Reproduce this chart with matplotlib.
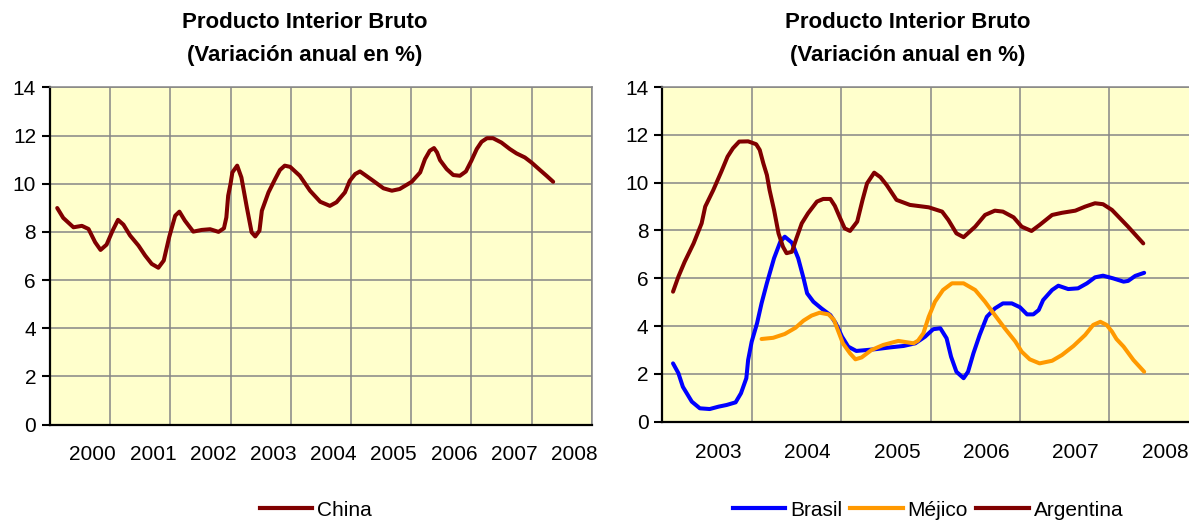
import matplotlib
matplotlib.use("Agg")
import matplotlib.pyplot as plt
from matplotlib.lines import Line2D

plt.rcParams['font.family'] = ['Liberation Sans', 'DejaVu Sans']

# China, decimal years from Jan 2000
china_x = [0.12, 0.22, 0.39, 0.53, 0.64, 0.75, 0.84, 0.94,
           1.04, 1.13, 1.22, 1.33, 1.47, 1.58, 1.69, 1.80, 1.89, 1.98,
           2.08, 2.15, 2.24, 2.38, 2.52, 2.66, 2.80,
           2.89, 2.93, 2.96, 3.00, 3.03,
           3.11, 3.18, 3.27, 3.35, 3.41, 3.48, 3.52, 3.63, 3.74, 3.82, 3.90, 3.99,
           4.15, 4.32, 4.49, 4.65, 4.76, 4.90, 4.98,
           5.07, 5.15, 5.23, 5.37, 5.54, 5.68, 5.81,
           6.01, 6.15, 6.23, 6.31, 6.38, 6.43, 6.48, 6.59, 6.70, 6.81, 6.91,
           7.00, 7.09, 7.17, 7.26, 7.36, 7.50, 7.64, 7.75, 7.89,
           8.00, 8.14, 8.25, 8.36]
china_y = [8.99, 8.58, 8.19, 8.25, 8.12, 7.57, 7.25, 7.47,
           8.05, 8.50, 8.30, 7.85, 7.43, 7.02, 6.67, 6.51, 6.81, 7.78,
           8.67, 8.84, 8.47, 8.01, 8.08, 8.11, 8.00,
           8.15, 8.60, 9.50, 10.00, 10.47,
           10.75, 10.26, 9.02, 7.98, 7.81, 8.05, 8.88, 9.64, 10.19, 10.57, 10.75, 10.70,
           10.33, 9.71, 9.25, 9.08, 9.23, 9.64, 10.12,
           10.40, 10.51, 10.37, 10.12, 9.81, 9.71, 9.78,
           10.08, 10.47, 11.02, 11.37, 11.48, 11.30, 10.98, 10.61, 10.36, 10.33, 10.51,
           10.95, 11.44, 11.74, 11.89, 11.89, 11.71, 11.44, 11.26, 11.09,
           10.88, 10.57, 10.33, 10.08]

# Latin America, decimal years from Jan 2003
brasil_x = [0.12, 0.18, 0.23, 0.33, 0.42, 0.53, 0.63, 0.72, 0.82, 0.88, 0.94, 0.96,
            1.00, 1.06, 1.11, 1.17, 1.25, 1.32, 1.37, 1.45, 1.52, 1.58, 1.62, 1.69, 1.78, 1.88, 1.94,
            2.01, 2.08, 2.17, 2.29, 2.40, 2.55, 2.70, 2.83, 2.94,
            3.03, 3.11, 3.18, 3.23, 3.29, 3.37, 3.42, 3.48, 3.55, 3.63, 3.72, 3.81, 3.91,
            4.00, 4.08, 4.15, 4.21, 4.26, 4.36, 4.43, 4.54, 4.65, 4.75, 4.84, 4.93,
            5.04, 5.16, 5.21, 5.29, 5.39]
brasil_y = [2.44, 2.03, 1.46, 0.84, 0.56, 0.53, 0.63, 0.70, 0.81, 1.19, 1.82, 2.58,
            3.35, 4.12, 4.95, 5.80, 6.84, 7.53, 7.74, 7.49, 6.84, 6.00, 5.37, 5.02, 4.74, 4.46, 4.12,
            3.56, 3.14, 2.96, 3.00, 3.04, 3.11, 3.17, 3.28, 3.56,
            3.87, 3.91, 3.49, 2.72, 2.09, 1.82, 2.09, 2.86, 3.63, 4.39, 4.74, 4.95, 4.95,
            4.79, 4.49, 4.49, 4.67, 5.09, 5.51, 5.69, 5.55, 5.58, 5.79, 6.04, 6.11,
            6.00, 5.86, 5.89, 6.10, 6.23]

mejico_x = [1.11, 1.24, 1.37, 1.49, 1.58, 1.67, 1.76, 1.86, 1.92, 1.97,
            2.02, 2.10, 2.16, 2.23, 2.34, 2.47, 2.64, 2.81, 2.86, 2.92, 2.98,
            3.05, 3.14, 3.24, 3.37, 3.50, 3.61, 3.72, 3.83, 3.95,
            4.02, 4.11, 4.22, 4.36, 4.47, 4.60, 4.73, 4.82, 4.90, 4.97,
            5.03, 5.08, 5.16, 5.27, 5.39]
mejico_y = [3.46, 3.51, 3.67, 3.93, 4.23, 4.44, 4.56, 4.49, 4.26, 3.77,
            3.28, 2.86, 2.61, 2.69, 3.00, 3.21, 3.38, 3.28, 3.39, 3.70, 4.39,
            5.02, 5.51, 5.79, 5.79, 5.51, 5.02, 4.46, 3.91, 3.35,
            2.93, 2.61, 2.44, 2.55, 2.79, 3.17, 3.63, 4.05, 4.18, 4.05,
            3.77, 3.46, 3.14, 2.58, 2.09]

argentina_x = [0.12, 0.18, 0.25, 0.35, 0.44, 0.48, 0.57, 0.66, 0.73, 0.79, 0.86, 0.96,
               1.05, 1.09, 1.13, 1.17, 1.20, 1.25, 1.30, 1.35, 1.39, 1.45, 1.50, 1.56, 1.63,
               1.73, 1.80, 1.88, 1.93, 1.99,
               2.04, 2.10, 2.18, 2.24, 2.29, 2.37, 2.44, 2.51, 2.62, 2.77, 2.98,
               3.13, 3.20, 3.29, 3.37, 3.50, 3.61, 3.72, 3.81, 3.93,
               4.02, 4.13, 4.22, 4.36, 4.47, 4.62, 4.73, 4.84, 4.93,
               5.03, 5.21, 5.38]
argentina_y = [5.44, 6.07, 6.69, 7.46, 8.30, 9.00, 9.69, 10.46, 11.09, 11.44, 11.72, 11.73,
               11.61, 11.37, 10.81, 10.32, 9.69, 8.86, 7.88, 7.32, 7.05, 7.11, 7.67, 8.30, 8.72,
               9.21, 9.32, 9.32, 9.03, 8.51,
               8.09, 7.98, 8.37, 9.28, 9.97, 10.42, 10.23, 9.90, 9.28, 9.07, 8.97,
               8.79, 8.44, 7.88, 7.72, 8.16, 8.65, 8.83, 8.79, 8.55,
               8.16, 7.98, 8.23, 8.65, 8.74, 8.83, 9.00, 9.14, 9.10,
               8.86, 8.16, 7.46]

china_years = list(range(2000, 2009))
latam_years = list(range(2003, 2009))

titulo = "Producto Interior Bruto"
subtitulo = "(Variación anual en %)"

DARKRED = "#800000"
BLUE = "#0000FF"
ORANGE = "#FF9900"
BG = "#FFFFCC"
GRID = "#868686"

W, H = 1189, 520
fig = plt.figure(figsize=(W / 100, H / 100), dpi=100)


def make_axes(x0, x1, ytop, ybot):
    ax = fig.add_axes([x0 / W, 1 - ybot / H, (x1 - x0) / W, (ybot - ytop) / H])
    ax.set_facecolor(BG)
    ax.set_ylim(0, 14)
    ax.set_yticks(range(0, 15, 2))
    ax.grid(True, which='major', color=GRID, linewidth=1.1)
    ax.set_axisbelow(True)
    for s in ('top', 'right'):
        ax.spines[s].set_color(GRID)
        ax.spines[s].set_linewidth(1.1)
    for s in ('left', 'bottom'):
        ax.spines[s].set_color('black')
        ax.spines[s].set_linewidth(1.6)
    ax.tick_params(axis='y', direction='out', length=6, width=1.5,
                   labelsize=15, pad=4, colors='black')
    ax.tick_params(axis='x', which='both', length=0, labelsize=15, pad=15)
    return ax


def year_axis(ax, years, label_frac):
    start = years[0]
    ax.set_xlim(start, start + len(years))
    ax.set_xticks([start + i for i in range(len(years) + 1)])
    ax.set_xticklabels([])
    ax.set_xticks([y + label_frac for y in years], minor=True)
    ax.set_xticklabels([str(y) for y in years], minor=True)


lw = 2.9
line_kw = dict(linewidth=lw, solid_joinstyle='round', solid_capstyle='round')

# left: China
ax1 = make_axes(50, 591.7, 87.4, 424.5)
year_axis(ax1, china_years, 0.71)
ax1.plot([2000 + v for v in china_x], china_y, color=DARKRED, **line_kw)

# right: Brasil, Méjico, Argentina
ax2 = make_axes(662.3, 1198.7, 87.1, 421.7)
year_axis(ax2, latam_years, 0.625)
ax2.plot([2003 + v for v in brasil_x], brasil_y, color=BLUE, **line_kw)
ax2.plot([2003 + v for v in mejico_x], mejico_y, color=ORANGE, **line_kw)
ax2.plot([2003 + v for v in argentina_x], argentina_y, color=DARKRED, **line_kw)

for cx in (305, 908):
    fig.text(cx / W, 1 - 22 / H, titulo, ha='center', va='center',
             fontsize=16, fontweight='bold')
    fig.text(cx / W, 1 - 55 / H, subtitulo, ha='center', va='center',
             fontsize=16, fontweight='bold')

leg_kw = dict(frameon=False, fontsize=15, handlelength=2.5, handletextpad=0.25,
              borderpad=0, borderaxespad=0, loc='center')
fig.legend([Line2D([], [], color=DARKRED, linewidth=3)], ["China"],
           bbox_to_anchor=(316 / W, 10 / H), **leg_kw)
fig.legend([Line2D([], [], color=BLUE, linewidth=3),
            Line2D([], [], color=ORANGE, linewidth=3),
            Line2D([], [], color=DARKRED, linewidth=3)],
           ["Brasil", "Méjico", "Argentina"], ncol=3, columnspacing=0.4,
           bbox_to_anchor=(928 / W, 10 / H), **leg_kw)

fig.savefig("out.png", dpi=100)
